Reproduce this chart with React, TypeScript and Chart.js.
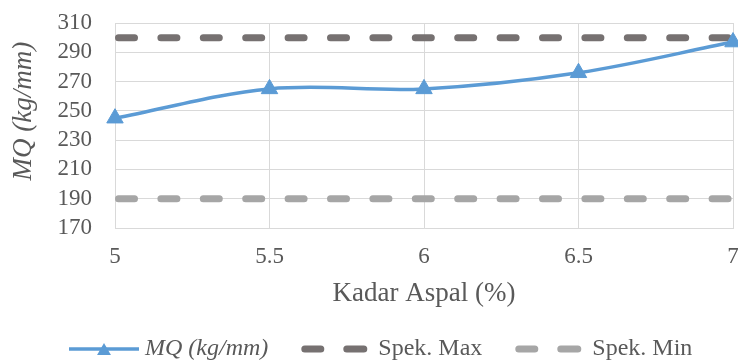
import React, { useEffect, useRef } from "react";
import { Chart, registerables } from "chart.js";

Chart.register(...registerables);

const xValues = [5, 5.5, 6, 6.5, 7];
const mqValues = [245, 265, 265, 276, 297];
const spekMaxValues = [300, 300, 300, 300, 300];
const spekMinValues = [190, 190, 190, 190, 190];
const seriesLabels = ["MQ (kg/mm)", "Spek. Max", "Spek. Min"];
const xTitle = "Kadar Aspal (%)";
const yTitle = "MQ (kg/mm)";
const yMin = 170;
const yMax = 310;
const yStep = 20;
const xMin = 5;
const xMax = 7;
const xStep = 0.5;

const FONT = "'Liberation Serif', 'Times New Roman', serif";
const TEXT = "#595959";
const GRID = "#D9D9D9";
const BLUE = "#5B9BD5";
const DARK = "#767171";
const LIGHT = "#A6A6A6";

const toPts = (ys: number[]) => xValues.map((x, i) => ({ x, y: ys[i] }));

const overlayPlugin = {
  id: "overlay",
  afterDraw(chart: any) {
    const ctx = chart.ctx as CanvasRenderingContext2D;
    const area = chart.chartArea;
    // Y axis title
    ctx.save();
    ctx.fillStyle = TEXT;
    ctx.font = `italic 27px ${FONT}`;
    ctx.textAlign = "center";
    ctx.textBaseline = "middle";
    ctx.translate(24, area.top + (area.bottom - area.top) * 0.43);
    ctx.rotate(-Math.PI / 2);
    ctx.fillText(yTitle, 0, 0);
    ctx.restore();

    // Legend
    const y = 349;
    let x = 69;
    ctx.save();
    ctx.textBaseline = "middle";
    ctx.textAlign = "left";
    chart.data.datasets.forEach((ds: any, i: number) => {
      const isMQ = i === 0;
      const sw = isMQ ? 70 : 66;
      if (isMQ) {
        ctx.strokeStyle = ds.borderColor;
        ctx.lineWidth = 3.5;
        ctx.lineCap = "butt";
        ctx.beginPath();
        ctx.moveTo(x, y);
        ctx.lineTo(x + sw, y);
        ctx.stroke();
        const cx = x + sw / 2;
        const r = 8;
        const cy = y + 2;
        ctx.fillStyle = ds.borderColor;
        ctx.beginPath();
        ctx.moveTo(cx, cy - r);
        ctx.lineTo(cx + r * 0.866, cy + r / 2);
        ctx.lineTo(cx - r * 0.866, cy + r / 2);
        ctx.closePath();
        ctx.fill();
      } else {
        ctx.strokeStyle = ds.borderColor;
        ctx.lineWidth = 7;
        ctx.lineCap = "round";
        ctx.beginPath();
        ctx.moveTo(x + 3.5, y);
        ctx.lineTo(x + 19.5, y);
        ctx.moveTo(x + 45.5, y);
        ctx.lineTo(x + sw - 3.5, y);
        ctx.stroke();
      }
      x += sw + (isMQ ? 6 : 11);
      ctx.fillStyle = TEXT;
      ctx.font = `${isMQ ? "italic " : ""}24px ${FONT}`;
      ctx.fillText(seriesLabels[i], x, y);
      x += ctx.measureText(seriesLabels[i]).width + 33;
    });
    ctx.restore();
  },
};

export default function App() {
  const ref = useRef<HTMLCanvasElement | null>(null);

  useEffect(() => {
    document.body.style.margin = "0";
    if (!ref.current) return;
    const chart = new Chart(ref.current, {
      type: "line",
      data: {
        datasets: [
          {
            label: seriesLabels[0],
            data: toPts(mqValues),
            borderColor: BLUE,
            backgroundColor: BLUE,
            borderWidth: 3.5,
            tension: 0.35,
            pointStyle: "triangle",
            pointRadius: 9.5,
            pointBackgroundColor: BLUE,
            pointBorderColor: BLUE,
            pointBorderWidth: 1,
            clip: false as any,
            order: 0,
          },
          {
            label: seriesLabels[1],
            data: toPts(spekMaxValues),
            borderColor: DARK,
            backgroundColor: DARK,
            borderWidth: 7,
            borderDash: [16, 26.4],
            borderDashOffset: -3.5,
            borderCapStyle: "round",
            pointRadius: 0,
            order: 1,
          },
          {
            label: seriesLabels[2],
            data: toPts(spekMinValues),
            borderColor: LIGHT,
            backgroundColor: LIGHT,
            borderWidth: 7,
            borderDash: [16, 26.4],
            borderDashOffset: -3.5,
            borderCapStyle: "round",
            pointRadius: 0,
            order: 2,
          },
        ],
      },
      options: {
        responsive: false,
        animation: false,
        layout: {
          autoPadding: false,
          padding: { left: 0, right: 5, top: 23, bottom: 50.8 },
        },
        plugins: {
          legend: { display: false },
          tooltip: { enabled: false },
        },
        scales: {
          x: {
            type: "linear",
            min: xMin,
            max: xMax,
            ticks: {
              stepSize: xStep,
              autoSkip: false,
              maxRotation: 0,
              color: TEXT,
              font: { family: FONT, size: 23 },
              padding: 15,
              callback: (v: any) => String(Number(v)),
            },
            grid: { color: GRID, lineWidth: 1, drawTicks: false },
            border: { color: GRID, width: 1 },
            title: {
              display: true,
              text: xTitle,
              color: TEXT,
              font: { family: FONT, size: 27 },
              padding: { top: 0, bottom: 0 },
            },
            afterFit: (s: any) => {
              s.height = 82.2;
              s.paddingLeft = 0;
              s.paddingRight = 0;
            },
          },
          y: {
            min: yMin,
            max: yMax,
            ticks: {
              stepSize: yStep,
              autoSkip: false,
              color: TEXT,
              font: { family: FONT, size: 23 },
              padding: 23,
            },
            grid: { color: GRID, lineWidth: 1, drawTicks: false },
            border: { color: GRID, width: 1 },
            afterFit: (s: any) => {
              s.width = 115;
              s.paddingTop = 0;
              s.paddingBottom = 0;
            },
          },
        },
      },
      plugins: [overlayPlugin],
    });
    return () => chart.destroy();
  }, []);

  return (
    <div style={{ width: 738, height: 361, background: "#fff" }}>
      <canvas ref={ref} width={738} height={361} />
    </div>
  );
}
